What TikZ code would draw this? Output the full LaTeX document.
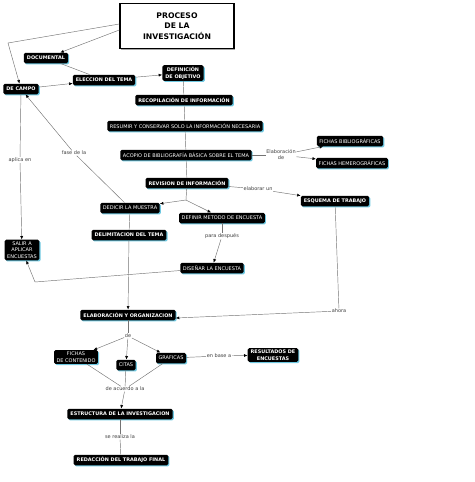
\documentclass[tikz,border=0pt]{standalone}
\usepackage{fontspec}
\setmainfont{DejaVu Sans}
\usetikzlibrary{arrows.meta,shadows}
\definecolor{sombra}{RGB}{110,200,225}

\begin{document}
\begin{tikzpicture}[
        x=1pt, y=-1pt,
        box/.style={rectangle, fill=black, text=white, rounded corners=1.5pt,
                    inner xsep=2.5pt, inner ysep=1.6pt, minimum height=10.5pt,
                    align=center, font=\fontsize{5}{6.8}\selectfont,
                    drop shadow={shadow xshift=1.2pt, shadow yshift=-1.2pt,
                                 fill=sombra, opacity=1}},
        bbox/.style={box, inner xsep=3pt, font=\fontsize{4.9}{6.8}\selectfont\bfseries},
        frase/.style={fill=white, inner sep=0.6pt, text=black!75, align=center,
                      font=\fontsize{5}{6}\selectfont},
        linea/.style={draw=black!55, line width=0.45pt},
        flecha/.style={linea, -{Latex[length=3.5pt, width=3pt, color=black]}}
    ]
        \useasboundingbox (0,0) rectangle (474,482);

        \node[draw, fill=white, line width=1.4pt, minimum width=114pt, minimum height=45pt,
              align=center, font=\fontsize{7.7}{10.5}\selectfont\bfseries,
              drop shadow={shadow xshift=1.2pt, shadow yshift=-1.2pt, fill=black!35, opacity=1}]
              (titulo) at (177,26) {PROCESO\\DE LA\\INVESTIGACIÓN};

        \node[bbox] (documental)   at (46,58)   {DOCUMENTAL};
        \node[bbox] (campo)        at (21,89)   {DE CAMPO};
        \node[bbox] (eleccion)     at (104,80)  {ELECCION DEL TEMA};
        \node[bbox] (objetivo)     at (183,73)  {DEFINICIÓN\\DE OBJETIVO};
        \node[bbox] (recopilacion) at (184,100) {RECOPILACIÓN DE INFORMACIÓN};
        \node[box]  (resumir)      at (185,126) {RESUMIR Y CONSERVAR SOLO LA INFORMACIÓN NECESARIA};
        \node[box]  (acopio)       at (186,155) {ACOPIO DE BIBLIOGRAFÍA BÁSICA SOBRE EL TEMA};
        \node[box]  (fbiblio)      at (350,141) {FICHAS BIBLIOGRÁFICAS};
        \node[box]  (fhemero)      at (352,163) {FICHAS HEMEROGRÁFICAS};
        \node[bbox] (revision)     at (187,183) {REVISION DE INFORMACIÓN};
        \node[bbox] (esquema)      at (335,201) {ESQUEMA DE TRABAJO};
        \node[box]  (muestra)      at (130,208) {DEDICIR LA MUESTRA};
        \node[box]  (metodo)       at (222,218) {DEFINIR METODO DE ENCUESTA};
        \node[bbox] (delimitacion) at (129,235) {DELIMITACION DEL TEMA};
        \node[box]  (salir)        at (22,250)  {SALIR A\\APLICAR\\ENCUESTAS};
        \node[box]  (disenar)      at (212,268) {DISEÑAR LA ENCUESTA};
        \node[bbox] (elaboracion)  at (128,315) {ELABORACIÓN Y ORGANIZACION};
        \node[box]  (fcontenido)   at (76,357)  {FICHAS\\DE CONTENIDO};
        \node[box]  (citas)        at (126,365) {CITAS};
        \node[box]  (graficas)     at (171,358) {GRAFICAS};
        \node[bbox] (resultados)   at (273,355) {RESULTADOS DE\\ENCUESTAS};
        \node[bbox] (estructura)   at (120,414) {ESTRUCTURA DE LA INVESTIGACION};
        \node[bbox] (redaccion)    at (121,460) {REDACCIÓN DEL TRABAJO FINAL};

        \node[frase] (elabde)    at (281,155) {Elaboración\\de};
        \node[frase] (elabun)    at (258,189) {elaborar un};
        \node[frase] (fasede)    at (74,153)  {fase de la};
        \node[frase] (aplica)    at (20,160)  {aplica en};
        \node[frase] (parades)   at (222,236) {para después};
        \node[frase] (ahora)     at (339,311) {ahora};
        \node[frase] (de)        at (128,336) {de};
        \node[frase] (enbase)    at (219,356) {en base a};
        \node[frase] (deacuerdo) at (125,389) {de acuerdo a la};
        \node[frase] (serealiza) at (120,437) {se realiza la};

        \coordinate (codo1) at (8,43);
        \coordinate (rama)  at (186,200);
        \coordinate (codo2) at (35,282);

        \draw[flecha] ([yshift=-4pt]titulo.west) -- (documental);
        \draw[flecha] ([yshift=2pt]titulo.west) -- (codo1) -- (campo);
        \draw[linea] (documental) -- (eleccion);
        \draw[flecha] (campo) -- (eleccion);
        \draw[flecha] (eleccion) -- (objetivo);
        \draw[linea] (objetivo) -- (recopilacion);
        \draw[linea] (recopilacion) -- (resumir);
        \draw[linea] (resumir) -- (acopio);
        \draw[linea] (acopio) -- (revision);
        \draw[linea] (acopio) -- (elabde);
        \draw[flecha] (elabde) -- (fbiblio);
        \draw[flecha] (elabde) -- (fhemero);
        \draw[linea] (revision) -- (elabun);
        \draw[flecha] (elabun) -- (esquema);
        \draw[linea] (revision) -- (rama);
        \draw[flecha] (rama) -- (muestra);
        \draw[flecha] (rama) -- (metodo);
        \draw[linea] (muestra) -- (fasede);
        \draw[flecha] (fasede) -- (campo);
        \draw[linea] (campo) -- (aplica);
        \draw[flecha] (aplica) -- (salir);
        \draw[linea] (muestra) -- (delimitacion);
        \draw[flecha] (delimitacion) -- (elaboracion);
        \draw[linea] (metodo) -- (parades);
        \draw[flecha] (parades) -- (disenar);
        \draw[flecha] (disenar) -- (codo2) -- (salir);
        \draw[linea] (esquema) -- (ahora);
        \draw[flecha] (ahora) -- ([yshift=-3pt]elaboracion.east);
        \draw[linea] (elaboracion) -- (de);
        \draw[flecha] (de) -- (fcontenido);
        \draw[flecha] (de) -- (citas);
        \draw[flecha] (de) -- (graficas);
        \draw[linea] (graficas) -- (enbase);
        \draw[flecha] (enbase) -- (resultados);
        \draw[linea] (fcontenido) -- (deacuerdo);
        \draw[linea] (citas) -- (deacuerdo);
        \draw[linea] (graficas) -- (deacuerdo);
        \draw[flecha] (deacuerdo) -- (estructura);
        \draw[linea] (estructura) -- (serealiza);
        \draw[linea] (serealiza) -- (redaccion);
    \end{tikzpicture}
\end{document}
